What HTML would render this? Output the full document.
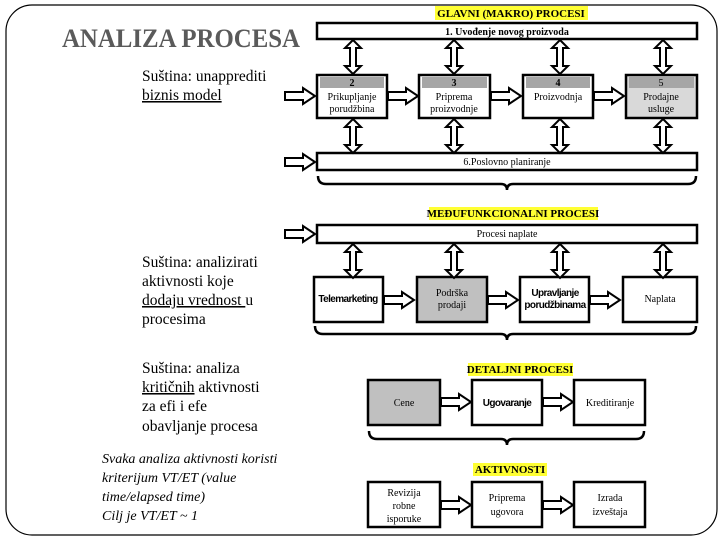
<!DOCTYPE html>
<html><head><meta charset="utf-8"><style>
html,body{margin:0;padding:0;background:#fff;}
svg{display:block;}
.t{font-family:"Liberation Serif",serif;}
</style></head><body>
<svg width="720" height="540" viewBox="0 0 720 540" xmlns="http://www.w3.org/2000/svg">
<defs>
<path id="va" d="M0,0 L8,8 L3,8 L3,26 L8,26 L0,34 L-8,26 L-3,26 L-3,8 L-8,8 Z" fill="#fff" stroke="#000" stroke-width="2" stroke-linejoin="miter"/>
<path id="ha" d="M0,-4 L18,-4 L18,-8 L30,0 L18,8 L18,4 L0,4 Z" fill="#fff" stroke="#000" stroke-width="2"/>
</defs>
<rect x="6" y="5" width="711" height="530" rx="26" ry="26" fill="none" stroke="#000" stroke-width="1.2"/>

<text x="62" y="47" class="t" font-size="26" font-weight="bold" fill="#5a5a5a" textLength="238" lengthAdjust="spacingAndGlyphs">ANALIZA PROCESA</text>
<g class="t" font-size="15.5" fill="#000">
<text x="142" y="81">Suština: unapprediti</text>
<text x="142" y="100" text-decoration="underline">biznis model</text>
<text x="142" y="267">Suština: analizirati</text>
<text x="142" y="286">aktivnosti koje</text>
<text x="142" y="305"><tspan text-decoration="underline">dodaju vrednost </tspan>u</text>
<text x="142" y="324">procesima</text>
<text x="142" y="373">Suština: analiza</text>
<text x="142" y="392"><tspan text-decoration="underline">kritičnih</tspan> aktivnosti</text>
<text x="142" y="411">za efi i efe</text>
<text x="142" y="431">obavljanje procesa</text>
</g>
<g class="t" font-size="14" font-style="italic" fill="#000">
<text x="102" y="463">Svaka analiza aktivnosti koristi</text>
<text x="102" y="482">kriterijum VT/ET (value</text>
<text x="102" y="501">time/elapsed time)</text>
<text x="102" y="520">Cilj je VT/ET ~ 1</text>
</g>

<rect x="435" y="6" width="153" height="14" fill="#ffff33"/>
<text x="511" y="17" class="t" font-size="11" font-weight="bold" text-anchor="middle">GLAVNI  (MAKRO) PROCESI</text>
<g stroke="#000" stroke-width="2.5" fill="#fff">
<rect x="317" y="23" width="380" height="16"/>
<rect x="317" y="75" width="70" height="43"/>
<rect x="419" y="75" width="71" height="43"/>
<rect x="523" y="75" width="70" height="43"/>
<rect x="626" y="75" width="71" height="43" fill="#d9d9d9"/>
<rect x="317" y="153" width="380" height="17"/>
</g>
<g fill="#a6a6a6">
<rect x="320" y="77" width="64" height="11"/>
<rect x="422" y="77" width="65" height="11"/>
<rect x="526" y="77" width="64" height="11"/>
<rect x="629" y="77" width="65" height="11"/>
</g>
<g class="t" font-size="10" text-anchor="middle">
<text x="507" y="35" font-weight="bold">1. Uvođenje novog proizvoda</text>
<text x="352" y="86" font-weight="bold">2</text>
<text x="454" y="86" font-weight="bold">3</text>
<text x="558" y="86" font-weight="bold">4</text>
<text x="661" y="86">5</text>
<text x="352" y="100">Prikupljanje</text><text x="352" y="112">porudžbina</text>
<text x="454" y="100">Priprema</text><text x="454" y="112">proizvodnje</text>
<text x="558" y="100">Proizvodnja</text>
<text x="661" y="100">Prodajne</text><text x="661" y="112">usluge</text>
<text x="507" y="165">6.Poslovno planiranje</text>
</g>
<use href="#va" x="353" y="40"/><use href="#va" x="454" y="40"/><use href="#va" x="560" y="40"/><use href="#va" x="663" y="40"/>
<use href="#va" x="353" y="119"/><use href="#va" x="454" y="119"/><use href="#va" x="560" y="119"/><use href="#va" x="663" y="119"/>
<use href="#ha" x="388" y="96"/><use href="#ha" x="491" y="96"/><use href="#ha" x="594" y="96"/>
<use href="#ha" x="285" y="96"/><use href="#ha" x="285" y="162"/><use href="#ha" x="285" y="234"/>
<path d="M318,176 q0,8 8,8 H501 q6,0 6,6 q0,-6 6,-6 H688 q8,0 8,-8" fill="none" stroke="#000" stroke-width="2.5"/>

<rect x="429" y="207" width="169" height="13" fill="#ffff33"/>
<text x="513" y="217" class="t" font-size="11" font-weight="bold" text-anchor="middle">MEĐUFUNKCIONALNI PROCESI</text>
<g stroke="#000" stroke-width="2.5" fill="#fff">
<rect x="317" y="225" width="380" height="18"/>
<rect x="314" y="277" width="69" height="45"/>
<rect x="417" y="277" width="70" height="45" fill="#c0c0c0"/>
<rect x="520" y="277" width="69" height="45"/>
<rect x="623" y="277" width="74" height="45"/>
</g>
<g class="t" font-size="10" text-anchor="middle">
<text x="507" y="237">Procesi naplate</text>
<text x="452" y="296">Podrška</text><text x="452" y="308">prodaji</text>
<text x="660" y="302">Naplata</text>
</g>
<g font-family="Liberation Sans, sans-serif" font-size="10" font-weight="bold" text-anchor="middle" letter-spacing="-0.6">
<text x="348" y="302">Telemarketing</text>
<text x="555" y="296">Upravljanje</text><text x="555" y="308">porudžbinama</text>
</g>
<use href="#va" x="353" y="244"/><use href="#va" x="454" y="244"/><use href="#va" x="560" y="244"/><use href="#va" x="663" y="244"/>
<use href="#ha" x="384" y="300"/><use href="#ha" x="488" y="300"/><use href="#ha" x="590" y="300"/>
<path d="M315,326 q0,8 8,8 H501 q6,0 6,6 q0,-6 6,-6 H688 q8,0 8,-8" fill="none" stroke="#000" stroke-width="2.5"/>

<rect x="468" y="363" width="105" height="13" fill="#ffff33"/>
<text x="520" y="373" class="t" font-size="11" font-weight="bold" text-anchor="middle">DETALJNI PROCESI</text>
<g stroke="#000" stroke-width="2.5" fill="#fff">
<rect x="368" y="380" width="72" height="45" fill="#c0c0c0"/>
<rect x="472" y="380" width="70" height="45"/>
<rect x="574" y="380" width="71" height="45"/>
</g>
<g class="t" font-size="10" text-anchor="middle">
<text x="404" y="406">Cene</text>
<text x="610" y="406">Kreditiranje</text>
</g>
<text x="507" y="406" font-family="Liberation Sans, sans-serif" font-size="10" font-weight="bold" text-anchor="middle" letter-spacing="-0.6">Ugovaranje</text>
<use href="#ha" x="441" y="402"/><use href="#ha" x="543" y="402"/>
<path d="M369,431 q0,8 8,8 H501 q6,0 6,6 q0,-6 6,-6 H636 q8,0 8,-8" fill="none" stroke="#000" stroke-width="2.5"/>

<rect x="473" y="463" width="74" height="13" fill="#ffff33"/>
<text x="510" y="473" class="t" font-size="11" font-weight="bold" text-anchor="middle">AKTIVNOSTI</text>
<g stroke="#000" stroke-width="2.5" fill="#fff">
<rect x="368" y="482" width="72" height="45"/>
<rect x="472" y="482" width="70" height="45"/>
<rect x="574" y="482" width="71" height="45"/>
</g>
<g class="t" font-size="10" text-anchor="middle">
<text x="404" y="496">Revizija</text><text x="404" y="509">robne</text><text x="404" y="522">isporuke</text>
<text x="507" y="501">Priprema</text><text x="507" y="515">ugovora</text>
<text x="610" y="501">Izrada</text><text x="610" y="515">izveštaja</text>
</g>
<use href="#ha" x="441" y="505"/><use href="#ha" x="543" y="505"/>
</svg>
</body></html>
